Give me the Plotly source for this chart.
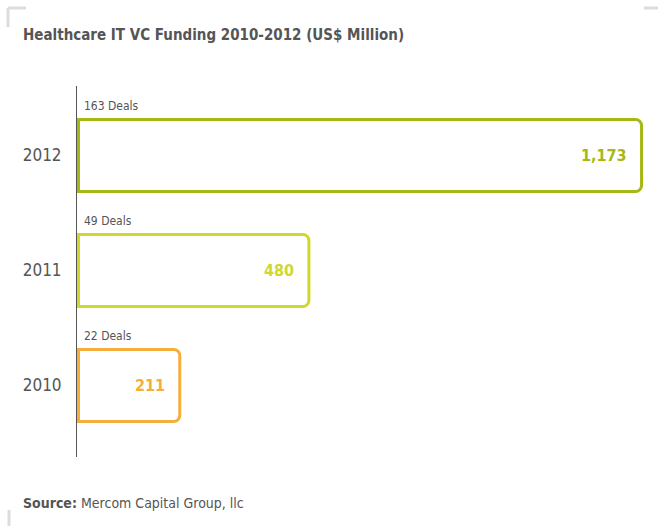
import plotly.graph_objects as go

years = ["2010", "2011", "2012"]
funding = [211, 480, 1173]
deals = ["22 Deals", "49 Deals", "163 Deals"]
value_labels = ["211", "480", "1,173"]
colors = ["#f5ae3c", "#d0d82b", "#a5b815"]

FONT = "DejaVu Sans Condensed, DejaVu Sans, sans-serif"
GRAY = "#555555"

W, H = 658, 526
L, R, T, B = 77, 8, 86, 69
PW, PH = W - L - R, H - T - B


def px(x):
    return (x - L) / PW


def py(y):
    return 1 - (y - T) / PH


fig = go.Figure()
fig.add_trace(go.Bar(
    y=years, x=funding, orientation="h",
    width=0.626,
    marker=dict(color="white", line=dict(color=colors, width=3), cornerradius=6),
    hoverinfo="skip", showlegend=False,
))

for i, (v, d, lab, c) in enumerate(zip(funding, deals, value_labels, colors)):
    fig.add_annotation(x=v, y=i, xref="x", yref="y", text=f"<b>{lab}</b>",
                       showarrow=False, xanchor="right", yanchor="middle", xshift=-13,
                       font=dict(family=FONT, size=16, color=c))
    fig.add_annotation(x=0, y=i, xref="x", yref="y", text=d,
                       showarrow=False, xanchor="left", yanchor="middle",
                       xshift=4, yshift=49,
                       font=dict(family=FONT, size=12, color=GRAY))

fig.add_annotation(xref="paper", yref="paper", x=px(21), y=py(35),
                   xanchor="left", yanchor="middle", showarrow=False,
                   text="<b>Healthcare IT VC Funding 2010-2012 (US$ Million)</b>",
                   font=dict(family=FONT, size=15, color=GRAY))
fig.add_annotation(xref="paper", yref="paper", x=px(21), y=py(503),
                   xanchor="left", yanchor="middle", showarrow=False,
                   text="<b>Source:</b> Mercom Capital Group, llc",
                   font=dict(family=FONT, size=14, color=GRAY))

mark = "#dcdcdc"
for x0, y0, x1, y1 in [(8, 8, 8, 27), (8, 8, 26, 8), (644, 8, 658, 8), (9, 510, 9, 526)]:
    fig.add_shape(type="line", xref="paper", yref="paper",
                  x0=px(x0), x1=px(x1), y0=py(y0), y1=py(y1),
                  line=dict(color=mark, width=3))

fig.update_layout(
    width=W, height=H,
    margin=dict(l=L, r=R, t=T, b=B),
    paper_bgcolor="white", plot_bgcolor="white",
    xaxis=dict(range=[-3.1, 1190.6], visible=False, fixedrange=True),
    yaxis=dict(type="category", categoryorder="array", categoryarray=years,
               range=[-0.622, 2.604], showline=True, linecolor=GRAY, linewidth=1,
               ticks="", showgrid=False, zeroline=False, fixedrange=True,
               tickfont=dict(family=FONT, size=17, color=GRAY), ticklabelstandoff=11),
)

fig.write_html("out.html", config={"displayModeBar": False},
               post_script="document.body.style.margin='0px';")
